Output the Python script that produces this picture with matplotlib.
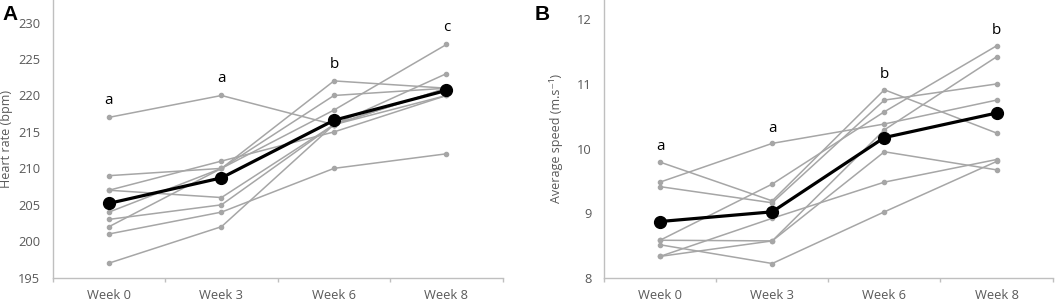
import numpy as np
import matplotlib
matplotlib.use("Agg")
from matplotlib import pyplot as plt
from matplotlib.ticker import FixedLocator, NullFormatter

plt.rcParams['font.family'] = ['Open Sans', 'DejaVu Sans']

weeks = ["Week 0", "Week 3", "Week 6", "Week 8"]

# panel A - heart rate per subject (bpm)
hr_subjects = [
    [217, 220, 216, 221],
    [209, 210, 222, 221],
    [207, 211, 215, 220],
    [207, 206, 216, 223],
    [204, 210, 220, 221],
    [203, 205, 216, 221],
    [202, 210, 218, 227],
    [201, 204, 210, 212],
    [197, 202, 216, 220],
]
hr_mean = [205.2, 208.7, 216.6, 220.7]
hr_letters = ["a", "a", "b", "c"]

# panel B - average speed per subject (m/s)
speed_subjects = [
    [9.79, 9.19, 10.91, 10.24],
    [9.48, 10.08, 10.38, 10.75],
    [9.41, 9.16, 10.75, 11.00],
    [8.58, 9.45, 10.57, 11.59],
    [8.58, 8.57, 10.29, 11.42],
    [8.51, 8.22, 9.02, 9.80],
    [8.33, 8.92, 9.48, 9.83],
    [8.33, 8.57, 9.95, 9.67],
]
speed_mean = [8.87, 9.02, 10.17, 10.55]
speed_letters = ["a", "a", "b", "b"]

grey = "#a6a6a6"
axis_col = "#bfbfbf"
text_col = "#595959"


def draw_panel(ax, subjects, mean, letters, yticks, ylim, ylabel, label_x, letter_off):
    x = np.arange(len(weeks))
    for s in subjects:
        ax.plot(x, s, color=grey, lw=1.1, marker="o", ms=3, zorder=2)
    ax.plot(x, mean, color="black", lw=2.3, marker="o", ms=8.5, zorder=3)

    tops = np.max(np.array(subjects), axis=0)
    for xi, t, let in zip(x, tops, letters):
        ax.annotate(let, (xi, t), xytext=(0, letter_off), textcoords="offset points",
                    ha="center", va="center", fontsize=11, color="black")

    ax.set_xlim(-0.5, len(weeks) - 0.5)
    ax.set_ylim(*ylim)
    ax.xaxis.set_major_locator(FixedLocator(np.arange(len(weeks) + 1) - 0.5))
    ax.xaxis.set_major_formatter(NullFormatter())
    ax.xaxis.set_minor_locator(FixedLocator(x))
    ax.set_xticklabels(weeks, minor=True)
    ax.tick_params(axis="x", which="major", length=3, color=axis_col, width=1)
    ax.tick_params(axis="x", which="minor", length=0, pad=8, labelsize=9.3, labelcolor=text_col)

    ax.set_yticks(yticks)
    ax.tick_params(axis="y", length=0, pad=9, labelsize=9.3, labelcolor=text_col)

    for sp in ["top", "right"]:
        ax.spines[sp].set_visible(False)
    for sp in ["left", "bottom"]:
        ax.spines[sp].set_color(axis_col)
        ax.spines[sp].set_linewidth(1)

    ax.set_ylabel(ylabel, fontsize=9, color=text_col)
    ax.yaxis.set_label_coords(label_x, 0.5)


fig = plt.figure(figsize=(10.59, 3.0), dpi=100)
ax1 = fig.add_axes([0.0498, 0.0743, 0.4249, 0.9257])
ax2 = fig.add_axes([0.5703, 0.0743, 0.4237, 0.9257])

draw_panel(ax1, hr_subjects, hr_mean, hr_letters, list(range(195, 231, 5)),
           (195, 233.1), "Heart rate (bpm)", -0.088, 12)
draw_panel(ax2, speed_subjects, speed_mean, speed_letters, [8, 9, 10, 11, 12],
           (8, 12.3), "Average speed (m.s\u207b\u00b9)", -0.092, 11)

fig.text(0.002, 0.985, "A", fontsize=15, fontweight="bold", family="Liberation Sans", va="top")
fig.text(0.505, 0.985, "B", fontsize=15, fontweight="bold", family="Liberation Sans", va="top")

fig.savefig("out.png", dpi=100)
